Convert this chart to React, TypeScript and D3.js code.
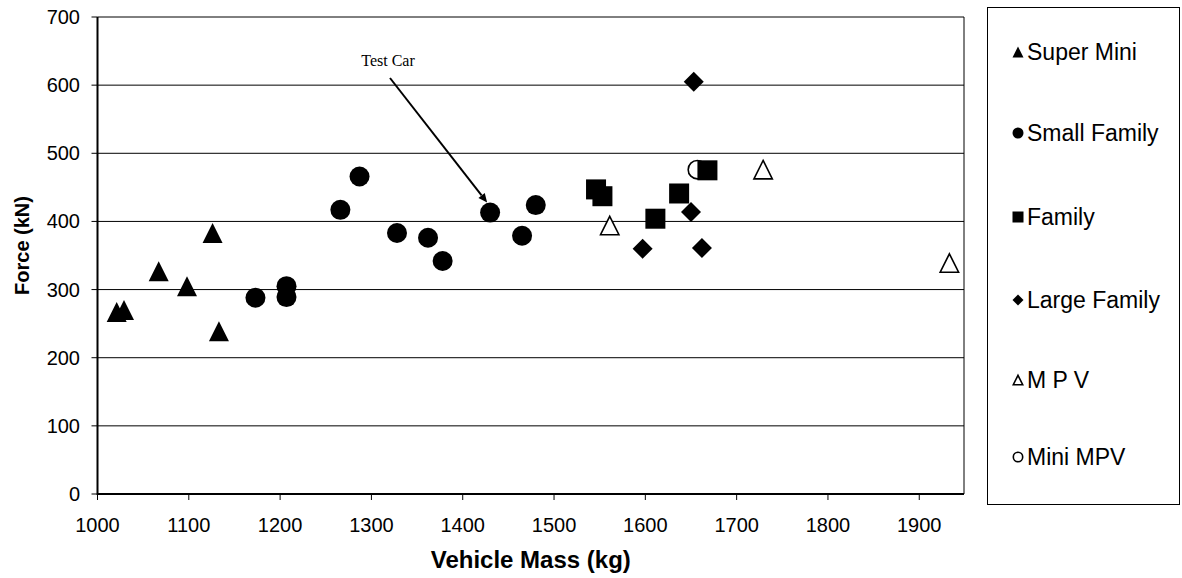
import React from "react";
import * as d3 from "d3";

// Vehicle categories and their crash-test measurements
const superMiniMass = [1021, 1029, 1067, 1098, 1126, 1133];
const superMiniForce = [267, 270, 327, 305, 383, 239];

const smallFamilyMass = [1173, 1207, 1207, 1266, 1287, 1328, 1362, 1378, 1430, 1465, 1480];
const smallFamilyForce = [288, 305, 289, 417, 466, 383, 376, 342, 413, 379, 424];

const familyMass = [1546, 1553, 1611, 1637, 1668];
const familyForce = [447, 437, 404, 441, 475];

const largeFamilyMass = [1597, 1650, 1653, 1662];
const largeFamilyForce = [360, 414, 605, 361];

const mpvMass = [1561, 1729, 1933];
const mpvForce = [394, 476, 339];

const miniMpvMass = [1657];
const miniMpvForce = [476];

const testCar = { mass: 1430, force: 413, label: "Test Car" };

const xTicks = [1000, 1100, 1200, 1300, 1400, 1500, 1600, 1700, 1800, 1900];
const yTicks = [0, 100, 200, 300, 400, 500, 600, 700];

type Shape = "triangle" | "circle" | "square" | "diamond";

const seriesDefs = [
  { name: "Super Mini", mass: superMiniMass, force: superMiniForce, shape: "triangle" as Shape, filled: true },
  { name: "Small Family", mass: smallFamilyMass, force: smallFamilyForce, shape: "circle" as Shape, filled: true },
  { name: "Family", mass: familyMass, force: familyForce, shape: "square" as Shape, filled: true },
  { name: "Large Family", mass: largeFamilyMass, force: largeFamilyForce, shape: "diamond" as Shape, filled: true },
  { name: "M P V", mass: mpvMass, force: mpvForce, shape: "triangle" as Shape, filled: false },
  { name: "Mini MPV", mass: miniMpvMass, force: miniMpvForce, shape: "circle" as Shape, filled: false },
];

// paint order: the open circle sits beneath the family squares
const drawOrder = ["Super Mini", "Small Family", "Mini MPV", "Family", "Large Family", "M P V"];

const W = 1182;
const H = 578;
const plot = { left: 97.5, right: 964, top: 17, bottom: 494 };

const FONT = "'Liberation Sans', Arial, sans-serif";

function Marker({ shape, filled, x, y, size }: { shape: Shape; filled: boolean; x: number; y: number; size: number }) {
  const h = size / 2;
  const fill = filled ? "#000" : "#fff";
  const stroke = "#000";
  const sw = filled ? 0 : 1.6;
  if (shape === "circle") {
    return <circle cx={x} cy={y} r={filled ? h : h - 0.8} fill={fill} stroke={stroke} strokeWidth={sw} />;
  }
  if (shape === "square") {
    return <rect x={x - h} y={y - h} width={size} height={size} fill={fill} />;
  }
  if (shape === "diamond") {
    return <path d={`M${x},${y - h}L${x + h},${y}L${x},${y + h}L${x - h},${y}Z`} fill={fill} />;
  }
  const i = filled ? 0 : 0.8;
  return (
    <path
      d={`M${x},${y - h + i}L${x + h - i},${y + h - i}L${x - h + i},${y + h - i}Z`}
      fill={fill}
      stroke={stroke}
      strokeWidth={sw}
      strokeLinejoin="miter"
    />
  );
}

export default function App() {
  const x = d3.scaleLinear().domain([1000, 1949]).range([plot.left, plot.right]);
  const y = d3.scaleLinear().domain([0, 700]).range([plot.bottom, plot.top]);

  const ordered = drawOrder.map((n) => seriesDefs.find((s) => s.name === n)!);

  const tx = x(testCar.mass);
  const ty = y(testCar.force);
  const labelX = 388;
  const labelY = 66;
  const arrowStart: [number, number] = [390, 78];
  const tip: [number, number] = [tx - 3, ty - 10];
  const ang = Math.atan2(tip[1] - arrowStart[1], tip[0] - arrowStart[0]);
  const ah = 9;
  const aw = 4;
  const base: [number, number] = [tip[0] - ah * Math.cos(ang), tip[1] - ah * Math.sin(ang)];
  const perp: [number, number] = [-Math.sin(ang), Math.cos(ang)];

  const legendItems = seriesDefs;
  const legendY = [52, 133, 217, 300, 380, 457];

  return (
    <svg
      width={W}
      height={H}
      style={{ position: "absolute", left: 0, top: 0, background: "#fff" }}
      fontFamily={FONT}
    >
      <rect x={0} y={0} width={W} height={H} fill="#fff" />

      {/* horizontal gridlines */}
      {yTicks.map((t) => (
        <line key={`g${t}`} x1={plot.left} x2={plot.right} y1={y(t)} y2={y(t)} stroke="#000" strokeWidth={1} />
      ))}
      {/* right border */}
      <line x1={plot.right} x2={plot.right} y1={plot.top} y2={plot.bottom} stroke="#000" strokeWidth={1} />

      {/* axes */}
      <line x1={plot.left} x2={plot.left} y1={plot.top} y2={plot.bottom + 1} stroke="#000" strokeWidth={2} />
      <line x1={plot.left} x2={plot.right} y1={plot.bottom} y2={plot.bottom} stroke="#000" strokeWidth={2} />

      {yTicks.map((t) => (
        <g key={`y${t}`}>
          <line x1={plot.left - 6} x2={plot.left} y1={y(t)} y2={y(t)} stroke="#000" strokeWidth={1} />
          <text x={80} y={y(t)} dy="0.35em" textAnchor="end" fontSize={20} fill="#000">
            {t}
          </text>
        </g>
      ))}
      {xTicks.map((t) => (
        <g key={`x${t}`}>
          <line x1={x(t)} x2={x(t)} y1={plot.bottom} y2={plot.bottom + 6} stroke="#000" strokeWidth={1} />
          <text x={x(t)} y={532} textAnchor="middle" fontSize={20} fill="#000">
            {t}
          </text>
        </g>
      ))}

      <text x={(plot.left + plot.right) / 2} y={568} textAnchor="middle" fontSize={24} fontWeight="bold" fill="#000">
        Vehicle Mass (kg)
      </text>
      <text
        transform={`translate(29,${(plot.top + plot.bottom) / 2 - 10}) rotate(-90)`}
        textAnchor="middle"
        fontSize={20}
        fontWeight="bold"
        fill="#000"
      >
        Force (kN)
      </text>

      {/* data points */}
      {ordered.map((s) => (
        <g key={s.name}>
          {s.mass.map((m, i) => (
            <Marker key={i} shape={s.shape} filled={s.filled} x={x(m)} y={y(s.force[i])} size={20} />
          ))}
        </g>
      ))}

      {/* test car annotation */}
      <text x={labelX} y={labelY} textAnchor="middle" fontSize={16} fontFamily="'Liberation Serif', 'Times New Roman', serif" fill="#000">
        {testCar.label}
      </text>
      <line x1={arrowStart[0]} y1={arrowStart[1]} x2={base[0]} y2={base[1]} stroke="#000" strokeWidth={2} />
      <path
        d={`M${tip[0]},${tip[1]}L${base[0] + perp[0] * aw},${base[1] + perp[1] * aw}L${base[0] - perp[0] * aw},${base[1] - perp[1] * aw}Z`}
        fill="#000"
      />

      {/* legend */}
      <rect x={987.5} y={7.5} width={192} height={497} fill="#fff" stroke="#000" strokeWidth={1} />
      {legendItems.map((s, i) => (
        <g key={`l${s.name}`}>
          <Marker shape={s.shape} filled={s.filled} x={1018} y={legendY[i]} size={11} />
          <text x={1027} y={legendY[i]} dy="0.36em" fontSize={23} fill="#000">
            {s.name}
          </text>
        </g>
      ))}
    </svg>
  );
}
